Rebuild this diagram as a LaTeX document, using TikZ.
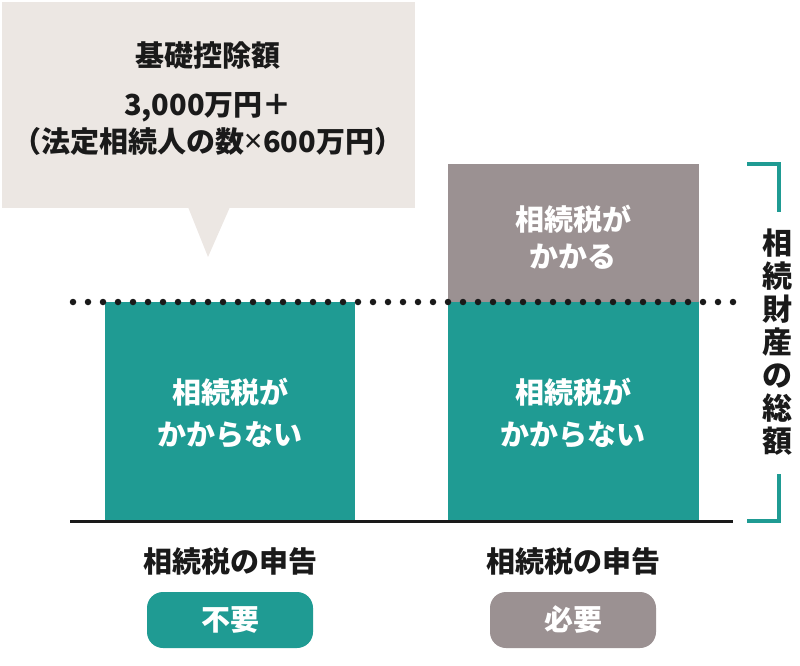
\documentclass[tikz,border=0pt]{standalone}
\usepackage{fontspec}
\setmainfont{Noto Sans CJK JP}
\newfontfamily\latinsans{Noto Sans}
\definecolor{teal1}{HTML}{1F9B93}
\definecolor{gray1}{HTML}{9B9192}
\definecolor{callbg}{HTML}{ECE7E3}
\definecolor{ink}{HTML}{1A1A1A}
\tikzset{
  wtext/.style={text=white, font=\fontsize{29}{42}\selectfont\bfseries, align=center},
  btext/.style={text=ink, font=\fontsize{29}{36}\selectfont\bfseries, align=center},
  pill/.style={rounded corners=16pt, minimum width=166pt, minimum height=56pt, inner sep=0pt, text=white, font=\fontsize{29}{30}\selectfont\bfseries},
  brk/.style={draw=teal1, line width=3.5pt}
}
\begin{document}
\begin{tikzpicture}[x=1pt,y=-1pt]
\useasboundingbox (0,0) rectangle (800,666);
% callout
\fill[callbg] (2,2) rectangle (415,208);
\fill[callbg] (188,207) -- (230,207) -- (208,257) -- cycle;
\node[btext] (t1) at (208,55) {基礎控除額};
\node[btext, font=\fontsize{29}{37}\selectfont\bfseries] (t2) at (208,124) {3,000万円＋\\（法定相続人の数{\latinsans\bfseries\fontsize{32}{37}\selectfont ×}600万円）};
% bars
\fill[teal1] (105,302) rectangle (355,521);
\fill[gray1] (448,164) rectangle (699,302);
\fill[teal1] (448,302) rectangle (699,521);
\node[wtext] (l1) at (230,413) {相続税が\\かからない};
\node[wtext, font=\fontsize{29}{37}\selectfont\bfseries] (r0) at (573,237) {相続税が\\かかる};
\node[wtext] (r1) at (573,413) {相続税が\\かからない};
% dotted line
\coordinate (d1) at (73,302);
\coordinate (d2) at (733,302);
\draw[ink, line width=6.5pt, line cap=round, dash pattern=on 0pt off 15pt] (d1) -- (d2);
% baseline
\coordinate (b1) at (70,521);
\coordinate (b2) at (733,521);
\draw[ink, line width=3pt] (b1) -- (b2);
% bracket
\draw[brk] (747,164) -- (779,164) -- (779,212);
\draw[brk] (779,474) -- (779,521) -- (747,521);
\node[text=ink, font=\fontsize{30}{33}\selectfont\bfseries, align=center, inner sep=0pt] (v) at (777,342) {相\\続\\財\\産\\の\\総\\額};
% labels
\node[btext] (lab1) at (230,561) {相続税の申告};
\node[btext] (lab2) at (573,561) {相続税の申告};
\node[pill, fill=teal1] (p1) at (230,620) {不要};
\node[pill, fill=gray1] (p2) at (573,620) {必要};
\end{tikzpicture}
\end{document}
